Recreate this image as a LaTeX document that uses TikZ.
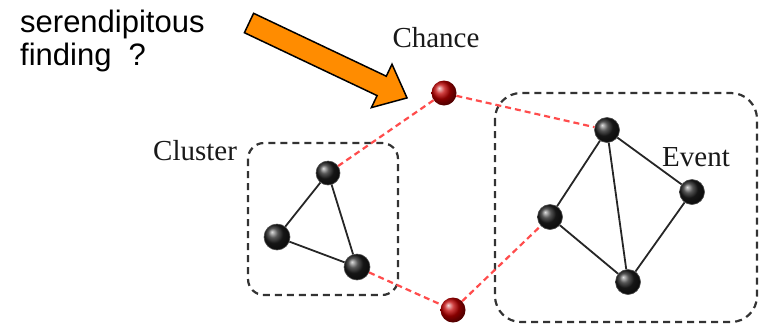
\documentclass[tikz,border=0pt]{standalone}
\usepackage{fontspec}
\setmainfont{Liberation Serif}
\newfontfamily\arialfont{Liberation Sans}
\begin{document}
\begin{tikzpicture}[x=1pt,y=-1pt,
  blackball/.style={circle,inner sep=0pt,minimum size=25pt,ball color=black!88,draw=black!70,line width=0.6pt},
  redball/.style={circle,inner sep=0pt,minimum size=25pt,ball color=red!75!black,draw=none},
  edge/.style={draw=black!85,line width=1.8pt},
  chanceline/.style={draw=red!70!white,line width=2.2pt,dash pattern=on 6pt off 4pt},
  groupbox/.style={draw=black!80,line width=2.2pt,dash pattern=on 7pt off 5pt},
  lbl/.style={font=\fontsize{29}{30}\selectfont,text=black!90,inner sep=0pt},
  qtext/.style={anchor=base west,inner sep=0pt,font=\arialfont\fontsize{31}{33}\selectfont},
  bigarrow/.style={fill=orange!90!yellow,draw=black,line width=1.5pt,line join=miter}]
\useasboundingbox (0,0) rectangle (765,325);
% group boxes
\draw[groupbox,rounded corners=16pt] (248,143) rectangle (398,295);
\draw[groupbox,rounded corners=26pt] (495,93) rectangle (757,322);
% red connector nodes
\node[redball] (ch) at (444,93) {};
\node[redball] (cb) at (453,310) {};
% cluster nodes
\node[blackball,minimum size=24pt] (c1) at (328,173) {};
\node[blackball,minimum size=26pt] (c2) at (277,237) {};
\node[blackball,minimum size=26pt] (c3) at (357,267) {};
% event nodes
\node[blackball] (e1) at (607,130) {};
\node[blackball] (e2) at (692,192) {};
\node[blackball] (e3) at (550,217) {};
\node[blackball] (e4) at (628,282) {};
% edges
\path[edge] (c1) -- (c2) (c1) -- (c3) (c2) -- (c3);
\path[edge] (e1) -- (e2) (e1) -- (e3) (e1) -- (e4) (e3) -- (e4) (e2) -- (e4);
% chance lines
\path[chanceline] (ch) -- (c1) (ch) -- (e1) (c3) -- (cb) (cb) -- (e3);
% labels
\node[lbl,anchor=base] (lch) at (436,47) {Chance};
\node[lbl,anchor=base west] (lcl) at (153,160) {Cluster};
\node[lbl,anchor=base west] (lev) at (662,166) {Event};
\node[qtext] (q1) at (20,32) {serendipitous};
\node[qtext] (q2) at (20,65) {finding\ \ ?};
% orange arrow
\draw[bigarrow] (244.4,32.7) -- (253.6,13.3) -- (386.3,76.2) -- (392,64.2) -- (407,97.9) -- (371.4,107.6) -- (377.1,95.6) -- cycle;
\end{tikzpicture}
\end{document}
